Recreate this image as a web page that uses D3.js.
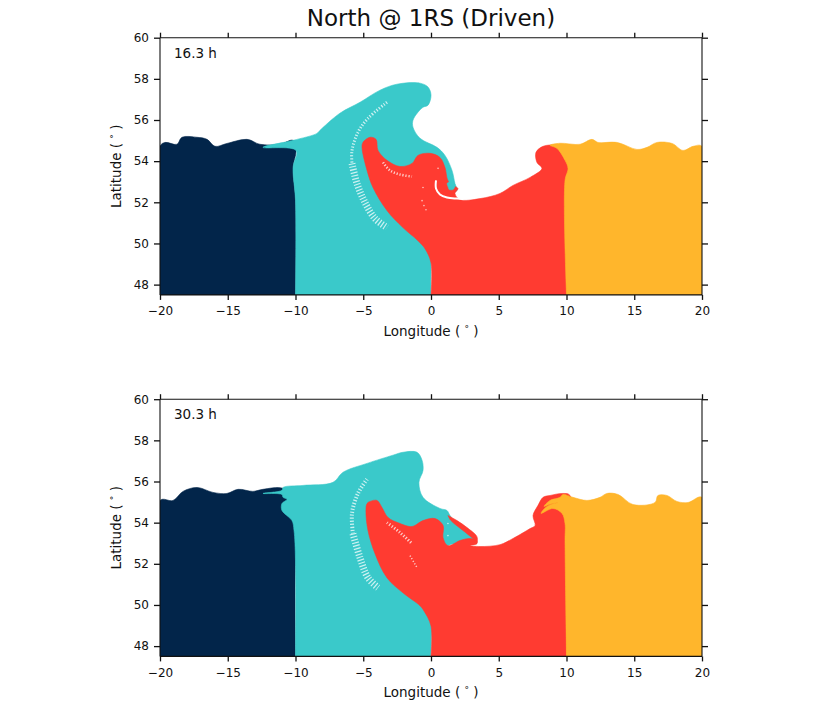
<!DOCTYPE html>
<html>
<head>
<meta charset="utf-8">
<script src="https://cdn.jsdelivr.net/npm/d3@7"></script>
<style>
  html,body{margin:0;background:#fff}
  text{font-family:"DejaVu Sans";fill:#111}
  .axis path,.axis line{stroke:#111}
  .axis path{stroke-width:1.1}
  .axis line{stroke-width:1.3}
</style>
</head>
<body>
<div id="chart"></div>
<script>
// Boundaries as [longitude, latitude]
const navyA = [[-20,47.5],[-20,54.72],[-19.63,54.91],[-18.75,54.82],[-18.38,55.16],[-17.27,55.16],[-16.53,55.06],[-15.94,54.72],[-15.06,54.86],[-13.58,55.06],[-12.62,54.82],[-11.14,54.82],[-10.18,55.01],[-9.96,54.52],[-10.18,53.69],[-10,52.08],[-10,47.5]];
const tealA = [[-10,47.5],[-10,52.08],[-10.18,53.69],[-9.96,54.52],[-12.4,54.67],[-10.18,55.01],[-8.41,55.35],[-8.19,55.5],[-6.72,56.33],[-5.24,56.86],[-3.76,57.45],[-2.51,57.74],[-0.81,57.79],[-0.22,57.6],[0,57.21],[-0.22,56.72],[-0.59,56.62],[-0.96,56.38],[-1.33,55.99],[-1.33,55.65],[-0.81,55.11],[0.44,54.67],[1.03,54.28],[1.55,53.55],[1.77,52.91],[1.92,52.57],[0.66,52.33],[0,47.5]];
const redA = [[0,47.5],[0,49.06],[-0.44,49.74],[-0.96,50.13],[-2.07,50.77],[-3.25,51.6],[-4.28,52.72],[-4.72,53.55],[-5.09,54.67],[-5.02,54.91],[-4.5,55.16],[-4.06,55.06],[-3.91,54.52],[-3.25,54.04],[-2.29,53.74],[-1.4,53.89],[-0.96,54.28],[-0.07,54.38],[0.66,54.18],[1.03,53.69],[1.25,53.06],[1.62,52.82],[1.99,52.67],[1.77,52.43],[2.14,52.13],[3.62,52.18],[5.09,52.43],[6.05,52.82],[7.31,53.21],[8.19,53.65],[7.82,53.94],[7.75,54.43],[8.27,54.72],[9.3,54.77],[10.26,54.52],[10.26,47.5]];
const tealTipA = [[1.18,52.91],[1.55,53.06],[1.77,52.82],[1.62,52.62],[1.33,52.62]];
const yellowA = [[10,47.5],[9.89,53.06],[10.11,53.65],[9.89,54.04],[9.3,54.62],[8.78,54.77],[9.52,54.87],[11,54.82],[11.88,55.06],[12.32,54.91],[13.73,54.91],[15.2,54.57],[15.94,54.67],[16.68,54.91],[17.79,54.86],[18.6,54.52],[19.34,54.72],[20,54.72],[20,47.5]];
const curlA = [[0.37,53.06],[0.37,52.67],[0.66,52.38],[1.18,52.23],[1.92,52.18],[2.4,52.16]];
const arcThinA = [[-3.25,56.86],[-4.65,56.08],[-5.39,55.4],[-5.83,54.52],[-5.83,53.89]];
const arcWideA = [[-5.83,53.89],[-5.46,52.91],[-4.87,51.99],[-4.13,51.21],[-3.25,50.77]];
const arcInnerA = [[-3.54,53.94],[-3.03,53.55],[-2.29,53.35],[-1.4,53.25]];
const specksA = [[0.52,53.65],[-0.59,52.72],[-0.52,51.84],[-0.37,51.64],[-0.66,52.08]];

const navyB = [[-20,47.5],[-20,55.08],[-19.04,55.08],[-18.3,55.52],[-17.27,55.71],[-16.09,55.47],[-15.06,55.42],[-14.24,55.62],[-13.14,55.52],[-12.4,55.62],[-10.92,55.67],[-9.67,55.08],[-10,52.15],[-10,47.5]];
const tealB = [[-10,47.5],[-10,52.15],[-10.11,53.62],[-10.26,54.1],[-11,54.59],[-11,54.93],[-10.63,55.13],[-10.92,55.23],[-11,55.37],[-12.4,55.42],[-11,55.57],[-10.92,55.71],[-9.45,55.81],[-7.23,55.96],[-6.49,56.45],[-4.72,56.88],[-2.8,57.28],[-2.07,57.42],[-1.03,57.42],[-0.66,57.03],[-0.59,56.54],[-0.89,55.96],[-0.59,55.23],[0.66,54.69],[1.18,54.59],[1.4,54.35],[1.92,53.96],[2.66,53.62],[3.25,53.23],[3.39,53.03],[2.88,52.93],[1.18,52.84],[0,47.5]];
const redB = [[0,47.5],[0,48.98],[-0.52,49.71],[-0.81,49.96],[-2.07,50.59],[-3.25,51.32],[-4.13,52.49],[-4.65,53.62],[-4.8,54.59],[-4.72,54.93],[-4.5,55.03],[-3.99,55.08],[-3.62,54.74],[-3.17,54.25],[-2.29,53.96],[-1.4,53.81],[-0.59,54.1],[0.3,54.2],[0.89,53.86],[0.89,53.27],[1.25,52.88],[2.14,53.13],[2.88,53.23],[3.39,53.13],[3.39,52.98],[2.88,52.89],[3.62,52.84],[5.09,52.93],[6.05,53.23],[7.31,53.71],[7.68,53.86],[7.53,54.35],[7.9,54.84],[8.27,55.23],[8.78,55.32],[9.74,55.42],[10.26,55.32],[10.26,47.5]];
const redStripB = [[1.25,54.35],[1.92,54.1],[2.66,53.76],[3.39,53.32],[3.39,53.08],[3.1,53.23],[2.36,53.62],[1.7,53.96],[1.4,54.15]];
const yellowB = [[10,47.5],[9.89,53.13],[9.89,53.96],[9.67,54.45],[9,54.69],[8.12,54.45],[8.56,54.79],[9.37,54.98],[8.71,54.88],[8.34,54.79],[8.78,55.08],[9.52,55.23],[9.74,55.37],[10.48,55.23],[11.51,55.08],[12.47,55.23],[12.99,55.42],[13.8,55.37],[14.91,54.88],[16.53,54.98],[16.75,55.32],[17.42,55.32],[18.15,55.03],[18.97,54.98],[20,55.23],[20,47.5]];
const arcThinB = [[-4.72,56.11],[-5.39,55.42],[-5.83,54.45],[-5.76,53.47]];
const arcWideB = [[-5.76,53.47],[-5.24,52.3],[-4.65,51.32],[-3.91,50.84]];
const arcInnerB = [[-3.25,54],[-2.29,53.52],[-1.4,52.98]];
const arcInner2B = [[-1.55,52.4],[-1.03,51.81]];
const specksB = [[1.25,53.96],[1.25,53.37]];

const xTicks = [-20,-15,-10,-5,0,5,10,15,20];
const yTicks = [48,50,52,54,56,58,60];
const titleText = "North @ 1RS (Driven)";
const timeA = "16.3 h", timeB = "30.3 h";

const colNavy="#02254a", colTeal="#3ac9ca", colRed="#ff3b31", colYellow="#ffb62c";

const W=830, H=714;
const svg=d3.select("#chart").append("svg").attr("width",W).attr("height",H).style("display","block");
svg.append("text").attr("x",431).attr("y",26).attr("text-anchor","middle").attr("font-size",23).text(titleText);

const x=d3.scaleLinear().domain([-20,20]).range([160,702]);

function drawPanel(id,top,bottom,stamp,shapes,arcs,specks){
  const y=d3.scaleLinear().domain([47.5,60]).range([bottom,top]);
  const open=d3.line().x(d=>x(d[0])).y(d=>y(d[1])).curve(d3.curveCatmullRom.alpha(0.5));
  svg.append("clipPath").attr("id",id).append("rect").attr("x",160).attr("y",top).attr("width",542).attr("height",bottom-top);
  const g=svg.append("g").attr("clip-path",`url(#${id})`);

  shapes.forEach(s=>g.append("path").attr("d",open(s.pts)+"Z").attr("fill",s.col).attr("stroke",s.col).attr("stroke-width",0.6).attr("stroke-linejoin","round"));
  // white gaps between the particles
  arcs.forEach(a=>g.append("path").attr("d",open(a.pts)).attr("fill","none").attr("stroke","#fff")
    .attr("stroke-width",a.w).attr("stroke-dasharray",a.dash||"1.2 1.8").attr("opacity",a.op||0.75));
  g.selectAll("circle.speck").data(specks).join("circle").attr("class","speck")
    .attr("cx",d=>x(d[0])).attr("cy",d=>y(d[1])).attr("r",0.8).attr("fill","#fff").attr("opacity",0.7);

  const fmt=d=>d<0?"\u2212"+(-d):""+d;
  const axB=svg.append("g").attr("class","axis").attr("transform",`translate(0,${bottom})`)
    .call(d3.axisBottom(x).tickValues(xTicks).tickFormat(fmt).tickSize(5).tickPadding(7));
  const axT=svg.append("g").attr("class","axis").attr("transform",`translate(0,${top})`)
    .call(d3.axisTop(x).tickValues(xTicks).tickFormat("").tickSize(5));
  const axL=svg.append("g").attr("class","axis").attr("transform",`translate(160,0)`)
    .call(d3.axisLeft(y).tickValues(yTicks).tickFormat(d3.format("d")).tickSize(6).tickPadding(5));
  const axR=svg.append("g").attr("class","axis").attr("transform",`translate(702,0)`)
    .call(d3.axisRight(y).tickValues(yTicks).tickFormat("").tickSize(6));
  [axB,axL].forEach(a=>a.selectAll("text").attr("font-size",12).attr("font-family","DejaVu Sans").attr("fill","#111"));
  [axB,axT,axL,axR].forEach(a=>a.select(".domain").attr("d",a===axB||a===axT?"M160,0H702":`M0,${top}V${bottom}`));

  svg.append("text").attr("x",174).attr("y",top+20).attr("font-size",13.5).text(stamp);
  const xl=svg.append("text").attr("x",431).attr("y",bottom+41).attr("text-anchor","middle").attr("font-size",13.5).text("Longitude ( ");
  xl.append("tspan").attr("dy",-4).attr("font-size",9).text("\u00b0");
  xl.append("tspan").attr("dy",4).text(" )");
  const cy=(top+bottom)/2;
  const yl=svg.append("text").attr("transform",`translate(121,${cy}) rotate(-90)`).attr("text-anchor","middle").attr("font-size",13.5).text("Latitude ( ");
  yl.append("tspan").attr("dy",-4).attr("font-size",9).text("\u00b0");
  yl.append("tspan").attr("dy",4).text(" )");
}

drawPanel("pa",37.7,294.9,timeA,
  [{pts:navyA,col:colNavy},{pts:tealA,col:colTeal},{pts:redA,col:colRed},{pts:tealTipA,col:colTeal},{pts:yellowA,col:colYellow}],
  [{pts:arcThinA,w:3},{pts:arcWideA,w:7},{pts:arcInnerA,w:2.5},{pts:curlA,w:2,dash:"none",op:1}],specksA);
drawPanel("pb",399.2,656.4,timeB,
  [{pts:navyB,col:colNavy},{pts:tealB,col:colTeal},{pts:redB,col:colRed},{pts:redStripB,col:colRed},{pts:yellowB,col:colYellow}],
  [{pts:arcThinB,w:4},{pts:arcWideB,w:7},{pts:arcInnerB,w:3},{pts:arcInner2B,w:1.5}],specksB);
</script>
</body>
</html>
